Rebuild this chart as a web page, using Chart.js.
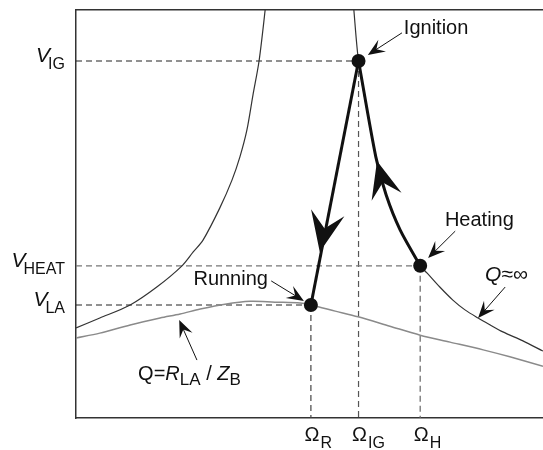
<!DOCTYPE html>
<html>
<head>
<meta charset="utf-8">
<script src="https://cdn.jsdelivr.net/npm/chart.js@4"></script>
<style>
  html, body { margin: 0; padding: 0; background: #fff; }
</style>
</head>
<body>
<canvas id="myChart" width="543" height="450"></canvas>
<script>
// operating points (axis units 0..100)
const omegaR = 50.3, omegaIG = 60.5, omegaH = 73.7;
const vIG = 87.5, vHeat = 37.3, vLA = 27.7;

// Q ~ infinity curve, left branch and right branch
const qInfLeftX = [0, 5.1, 11.6, 17.3, 22.7, 25.1, 27.2, 30.8, 33.4, 35.1, 36.6, 37.9, 39.2, 40.5, 41.0];
const qInfLeftY = [22.1, 24.5, 27.7, 32.1, 37.3, 40.7, 43.6, 51.5, 58.3, 64.0, 70.6, 79.2, 87.5, 100, 106];
const qInfRightX = [59.1, 59.5, 60.5, 62.3, 64.2, 66.4, 69.4, 73.7, 75.2, 77.9, 80.7, 83.3, 86.1, 88.7, 91.4, 95.7, 100];
const qInfRightY = [106, 100, 87.5, 75.5, 64.0, 54.7, 46.1, 37.3, 35.5, 32.1, 28.9, 26.5, 24.5, 22.8, 21.1, 18.9, 16.4];

// Q = R_LA / Z_B curve
const qLoadX = [0, 5.1, 11.6, 18.0, 22.3, 26.6, 31.9, 37.3, 42.6, 48.0, 50.3, 55.5, 60.4, 67.2, 73.7, 80.1, 87.2, 92.9, 100];
const qLoadY = [19.6, 20.8, 22.8, 24.5, 25.5, 26.7, 27.9, 28.6, 28.4, 28.2, 27.7, 26.2, 24.8, 22.5, 20.3, 18.6, 16.7, 15.0, 12.7];

// heating -> ignition path
const heatPathX = [omegaH, 69.4, 66.4, 64.2, omegaIG];
const heatPathY = [vHeat, 46.1, 54.7, 64.0, vIG];

// tick labels
const xTickValues = [omegaR, omegaIG, omegaH];
const xTickSubs = ["R", "IG", "H"];
const yTickValues = [vIG, vHeat, vLA];
const yTickSubs = ["IG", "HEAT", "LA"];

const pts = (xs, ys) => xs.map((x, i) => ({ x: x, y: ys[i] }));

// annotation text + pointer arrows (axis units)
const notes = [
  { parts: [["Ignition", "20px"]], x: 70.2, y: 94.1, from: [69.8, 94.4], tip: [62.5, 89.0] },
  { parts: [["Running", "20px"]], x: 41.1, y: 32.6, right: true, from: [41.8, 33.6], tip: [48.8, 28.7] },
  { parts: [["Heating", "20px"]], x: 79.0, y: 47.1, from: [81.2, 45.8], tip: [75.4, 39.2] },
  { parts: [["Q", "italic 21px"], ["\u2248\u221e", "21px"]], x: 87.6, y: 33.6, from: [91.9, 32.1], tip: [86.1, 24.5] },
  { parts: [["Q=", "20px"], ["R", "italic 20px"], ["LA", "17px", 5], [" / ", "20px"], ["Z", "italic 20px"], ["B", "17px", 5]],
    x: 13.3, y: 9.3, from: [25.9, 14.2], tip: [22.1, 24.0] },
];

// big arrowheads on the cycle: tip and a point behind it
const cycleHeads = [
  { tip: [52.2, 40.7], from: [omegaIG, vIG], len: 40, half: 17 },
  { tip: [64.45, 63.0], from: [66.4, 54.7], len: 37, half: 15.5 },
];

const FONT = "'Liberation Sans', Arial, sans-serif";

function arrowHead(ctx, tx, ty, fx, fy, len, half, notch) {
  const ang = Math.atan2(ty - fy, tx - fx);
  ctx.save();
  ctx.translate(tx, ty);
  ctx.rotate(ang);
  ctx.beginPath();
  ctx.moveTo(0, 0);
  ctx.lineTo(-len, half);
  ctx.lineTo(-len * notch, 0);
  ctx.lineTo(-len, -half);
  ctx.closePath();
  ctx.fill();
  ctx.restore();
}

function richText(ctx, parts, x, y, alignRight) {
  let total = 0;
  parts.forEach(p => { ctx.font = p[1] + " " + FONT; total += ctx.measureText(p[0]).width; });
  let cx = alignRight ? x - total : x;
  parts.forEach(p => {
    ctx.font = p[1] + " " + FONT;
    ctx.fillText(p[0], cx, y + (p[2] || 0));
    cx += ctx.measureText(p[0]).width;
  });
}

const drawPlugin = {
  id: "extras",
  afterDatasetsDraw(chart) {
    const ctx = chart.ctx;
    const sx = chart.scales.x, sy = chart.scales.y;
    const X = v => sx.getPixelForValue(v), Y = v => sy.getPixelForValue(v);
    const area = chart.chartArea;
    ctx.save();
    ctx.fillStyle = "#111";
    ctx.strokeStyle = "#111";
    ctx.textBaseline = "alphabetic";

    cycleHeads.forEach(h => {
      arrowHead(ctx, X(h.tip[0]), Y(h.tip[1]), X(h.from[0]), Y(h.from[1]), h.len, h.half, 0.6);
    });

    notes.forEach(n => {
      const fx = X(n.from[0]), fy = Y(n.from[1]), tx = X(n.tip[0]), ty = Y(n.tip[1]);
      const d = Math.hypot(tx - fx, ty - fy);
      ctx.lineWidth = 1;
      ctx.beginPath();
      ctx.moveTo(fx, fy);
      ctx.lineTo(tx - (tx - fx) / d * 9, ty - (ty - fy) / d * 9);
      ctx.stroke();
      arrowHead(ctx, tx, ty, fx, fy, 17, 7, 0.6);
      richText(ctx, n.parts, X(n.x), Y(n.y), n.right);
    });

    // y tick labels: V with subscript
    yTickValues.forEach((v, i) => {
      const py = Y(v);
      ctx.font = "16px " + FONT;
      const subW = ctx.measureText(yTickSubs[i]).width;
      ctx.font = "italic 21px " + FONT;
      const vW = ctx.measureText("V").width;
      const x0 = area.left - 11 - subW - vW + 2;
      ctx.fillText("V", x0, py + 1);
      ctx.font = "16px " + FONT;
      ctx.fillText(yTickSubs[i], x0 + vW - 2, py + 8);
    });

    // x tick labels: Omega with subscript
    xTickValues.forEach((v, i) => {
      const px = X(v) + 1;
      ctx.font = "20px " + FONT;
      const w = ctx.measureText("\u03a9").width;
      ctx.fillText("\u03a9", px - w / 2, area.bottom + 23);
      ctx.font = "16px " + FONT;
      ctx.fillText(xTickSubs[i], px + w / 2 + 1, area.bottom + 30);
    });
    ctx.restore();
  }
};

const dashed = (data, color) => ({
  data: data, showLine: true, borderColor: color, borderWidth: 1.2,
  borderDash: [6, 4], pointRadius: 0, tension: 0
});

const axis = (pos) => ({
  type: "linear", position: pos, min: 0, max: 100,
  grid: { display: false, drawTicks: false },
  ticks: { display: false },
  border: { display: true, color: "#333", width: 1.5 }
});

new Chart(document.getElementById("myChart"), {
  type: "scatter",
  data: {
    datasets: [
      {
        data: [{ x: omegaIG, y: vIG }, { x: omegaR, y: vLA }, { x: omegaH, y: vHeat }],
        pointRadius: 7, pointBackgroundColor: "#111", pointBorderWidth: 0, showLine: false
      },
      {
        data: [{ x: omegaIG, y: vIG }, { x: omegaR, y: vLA }],
        showLine: true, borderColor: "#111", borderWidth: 3, pointRadius: 0, tension: 0
      },
      {
        data: pts(heatPathX, heatPathY),
        showLine: true, borderColor: "#111", borderWidth: 3, pointRadius: 0, tension: 0.25
      },
      {
        data: pts(qInfLeftX, qInfLeftY),
        showLine: true, borderColor: "#333", borderWidth: 1.2, pointRadius: 0, tension: 0.3
      },
      {
        data: pts(qInfRightX, qInfRightY),
        showLine: true, borderColor: "#333", borderWidth: 1.2, pointRadius: 0, tension: 0.3
      },
      {
        data: pts(qLoadX, qLoadY),
        showLine: true, borderColor: "#8a8a8a", borderWidth: 1.5, pointRadius: 0, tension: 0.3
      },
      dashed([{ x: 0, y: vIG }, { x: omegaIG, y: vIG }], "#222"),
      dashed([{ x: 0, y: vHeat }, { x: omegaH, y: vHeat }], "#777"),
      dashed([{ x: 0, y: vLA }, { x: omegaR, y: vLA }], "#222"),
      dashed([{ x: omegaIG, y: vIG }, { x: omegaIG, y: 0 }], "#555"),
      dashed([{ x: omegaH, y: vHeat }, { x: omegaH, y: 0 }], "#666"),
      dashed([{ x: omegaR, y: vLA }, { x: omegaR, y: 0 }], "#444"),
    ]
  },
  options: {
    responsive: false,
    animation: false,
    devicePixelRatio: 1,
    layout: { autoPadding: false, padding: { left: 76, right: 0, top: 10, bottom: 32 } },
    plugins: { legend: { display: false }, tooltip: { enabled: false } },
    scales: {
      x: axis("bottom"),
      x2: axis("top"),
      y: axis("left")
    }
  },
  plugins: [drawPlugin]
});
</script>
</body>
</html>
